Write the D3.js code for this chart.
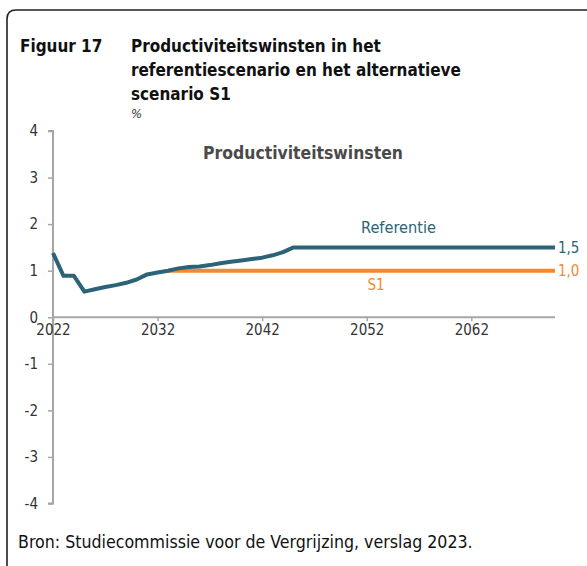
<!DOCTYPE html>
<html><head><meta charset="utf-8">
<script src="https://cdn.jsdelivr.net/npm/d3@7"></script>
<style>body{margin:0;background:#fff}svg{display:block}</style>
</head><body>
<svg id="c" width="587" height="566"></svg>
<script>
const years = d3.range(2022, 2071);
const referentie = [1.38,0.89,0.89,0.55,0.60,0.65,0.69,0.74,0.81,0.92,0.96,1.00,1.05,1.08,1.09,1.12,1.16,1.19,1.22,1.25,1.28,1.33,1.40,1.50,
  1.5,1.5,1.5,1.5,1.5,1.5,1.5,1.5,1.5,1.5,1.5,1.5,1.5,1.5,1.5,1.5,1.5,1.5,1.5,1.5,1.5,1.5,1.5,1.5,1.5];
const s1Years = d3.range(2033, 2071);
const s1 = s1Years.map(() => 1.0);
const yTicks = [4,3,2,1,0,-1,-2,-3,-4];
const xTicks = [2022,2032,2042,2052,2062];
const titleLines = ["Productiviteitswinsten in het","referentiescenario en het alternatieve","scenario S1"];

const CFONT = "'DejaVu Sans Condensed', 'DejaVu Sans', Tahoma, sans-serif";
const svg = d3.select("#c");
const x = d3.scaleLinear().domain([2022,2070]).range([53,555]);
const y = d3.scaleLinear().domain([-4,4]).range([503.5,131]);
const blue = "#2b6478", orange = "#f5892b", axisCol = "#a6a6a6", txt = "#333";

// fit a text's font size so that its width matches a target
function fit(sel, w){
  sel.attr("font-size",20);
  const l = sel.node().getComputedTextLength();
  const s = 20*w/l;
  sel.attr("font-size",s);
  return s;
}

// frame
svg.append("path").attr("d","M7,566 L7,19 Q7,10 16,10 L587,10").attr("fill","none").attr("stroke","#222").attr("stroke-width",1.6);

// titles
const t0 = svg.append("text").attr("x",131).attr("y",52).attr("font-family",CFONT).attr("font-weight","bold").attr("fill","#111").text(titleLines[0]);
const ts = fit(t0,250);
svg.append("text").attr("x",20).attr("y",52).attr("font-family",CFONT).attr("font-weight","bold").attr("font-size",ts).attr("fill","#111").text("Figuur 17");
titleLines.slice(1).forEach((t,i)=>svg.append("text").attr("x",131).attr("y",52+(i+1)*24).attr("font-family",CFONT).attr("font-weight","bold").attr("font-size",ts).attr("fill","#111").text(t));
svg.append("text").attr("x",131).attr("y",118).attr("font-family",CFONT).attr("font-style","italic").attr("font-size",13).attr("fill","#333").text("%");

// inner title
const it = svg.append("text").attr("x",303).attr("y",159).attr("text-anchor","middle").attr("font-family",CFONT).attr("font-weight","bold").attr("fill","#4a4a4a").text("Productiviteitswinsten");
fit(it,200);

// y axis
const ya = svg.append("g").attr("transform","translate(53,0)").call(d3.axisLeft(y).tickValues(yTicks).tickSize(5).tickFormat(d3.format("d")));
ya.select(".domain").attr("stroke",axisCol).attr("stroke-width",2).attr("d",`M-5,${y(4)}H0V${y(-4)}H-5`);
ya.selectAll(".tick line").attr("stroke",axisCol).attr("stroke-width",1.5);
ya.selectAll(".tick text").attr("font-family",CFONT).attr("font-size",15).attr("fill",txt).attr("x",-15).text(d=>d<0?"-"+Math.abs(d):d);

// x axis at 0
const xa = svg.append("g").attr("transform",`translate(0,${y(0)})`).call(d3.axisBottom(x).tickValues(xTicks).tickSize(4).tickFormat(d3.format("d")));
xa.select(".domain").attr("stroke",axisCol).attr("stroke-width",2).attr("d",`M${x(2022)},0H${x(2070)}`);
xa.selectAll(".tick line").attr("stroke",axisCol).attr("stroke-width",1.5);
xa.selectAll(".tick text").attr("font-family",CFONT).attr("font-size",15).attr("fill",txt).attr("y",7);

// lines
const line = d3.line().x(d=>x(d[0])).y(d=>y(d[1]));
svg.append("path").datum(s1Years.map((yr,i)=>[yr,s1[i]])).attr("d",line).attr("fill","none").attr("stroke",orange).attr("stroke-width",4);
svg.append("path").datum(years.map((yr,i)=>[yr,referentie[i]])).attr("d",line).attr("fill","none").attr("stroke",blue).attr("stroke-width",4).attr("stroke-linejoin","round");

// labels
const rl = svg.append("text").attr("x",398.5).attr("y",233).attr("text-anchor","middle").attr("font-family",CFONT).attr("fill",blue).text("Referentie");
fit(rl,75);
svg.append("text").attr("x",376).attr("y",290).attr("text-anchor","middle").attr("font-family",CFONT).attr("font-size",15).attr("fill",orange).text("S1");
svg.append("text").attr("x",558).attr("y",y(1.5)+5.5).attr("font-family",CFONT).attr("font-size",15).attr("fill",blue).text("1,5");
svg.append("text").attr("x",558).attr("y",y(1.0)+5.5).attr("font-family",CFONT).attr("font-size",15).attr("fill",orange).text("1,0");

// source
const src = svg.append("text").attr("x",18).attr("y",548).attr("font-family",CFONT).attr("fill","#111").text("Bron: Studiecommissie voor de Vergrijzing, verslag 2023.");
fit(src,455);
</script>
</body></html>
